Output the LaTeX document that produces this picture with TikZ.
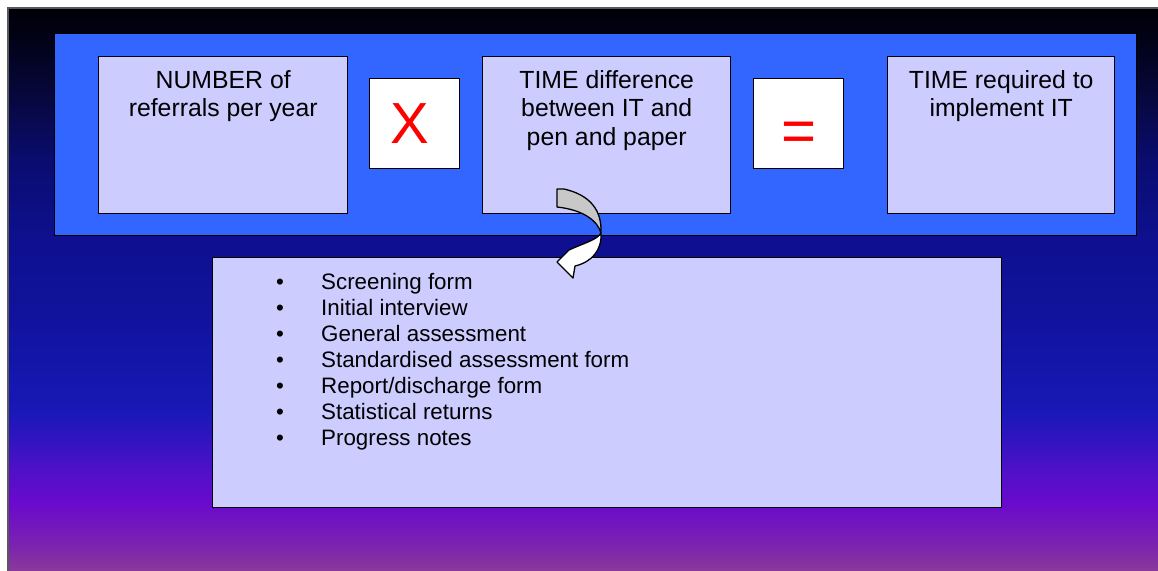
\documentclass[tikz,border=0pt]{standalone}
\usepackage{fontspec}
\setmainfont{Liberation Sans}
\usetikzlibrary{positioning}

% slide background colours, bottom to top
\definecolor{bgA}{HTML}{8C3C98}
\definecolor{bgB}{HTML}{7B22B0}
\definecolor{bgC}{HTML}{6A0ACC}
\definecolor{bgD}{HTML}{5210C8}
\definecolor{bgE}{HTML}{3414C0}
\definecolor{bgF}{HTML}{1A18B8}
\definecolor{bgG}{HTML}{1416AC}
\definecolor{bgH}{HTML}{10129A}
\definecolor{bgI}{HTML}{0E1090}
\definecolor{bgJ}{HTML}{0A0C70}
\definecolor{bgK}{HTML}{070840}
\definecolor{bgL}{HTML}{020218}
\definecolor{bgM}{HTML}{000008}
\definecolor{bandblue}{HTML}{3366FF}
\definecolor{boxfill}{HTML}{CCCCFF}
\definecolor{arrowgrey}{HTML}{C8C8C8}

% the path box is mapped onto the 25bp--75bp part of the shading
\pgfdeclareverticalshading{slidebg}{100bp}{%
  color(0bp)=(bgA); color(25bp)=(bgA); color(27.67bp)=(bgB); color(31.23bp)=(bgC);
  color(33.9bp)=(bgD); color(36.57bp)=(bgE); color(39.23bp)=(bgF); color(42.79bp)=(bgG);
  color(49.02bp)=(bgH); color(54.36bp)=(bgI); color(61.48bp)=(bgJ); color(66.81bp)=(bgK);
  color(72.15bp)=(bgL); color(75bp)=(bgM); color(100bp)=(bgM)}

\newcommand{\headfont}{\fontsize{24.8}{28.7}\selectfont}
\newcommand{\listfont}{\fontsize{22.35}{26}\selectfont}
\newcommand{\itembullet}{\makebox[45pt][l]{\textbullet}}

\begin{document}
\begin{tikzpicture}[x=1pt,y=-1pt,
  panel/.style={draw=black, line width=1.4pt, fill=boxfill, inner sep=0, anchor=north west},
  opbox/.style={draw=black, line width=1.4pt, fill=white, inner sep=0, anchor=north west,
                minimum width=90pt, minimum height=90pt},
  optext/.style={text=red, inner sep=0, anchor=base},
  headtext/.style={inner sep=0, anchor=north, font=\headfont},
  ribbon/.style={draw=black, line width=1.3pt, line join=round}]
\useasboundingbox (0,0) rectangle (1158,570);

% background
\shade[shading=slidebg] (8,8) rectangle (1162,574);
\draw[black!65, line width=1.2pt] (8,574) -- (8,8) -- (1162,8);

% blue band holding the equation
\node[draw=black, line width=1pt, fill=bandblue, inner sep=0, anchor=north west,
      minimum width=1082pt, minimum height=202pt] (band) at (54,33) {};

% equation boxes
\node[panel, minimum width=249pt, minimum height=157pt] (number) at (98,56) {};
\node[opbox] (times) at (369,78) {};
\node[panel, minimum width=248pt, minimum height=157pt] (diff) at (482,56) {};
\node[opbox] (equals) at (753,78) {};
\node[panel, minimum width=227pt, minimum height=157pt] (required) at (887,56) {};

\node[headtext] (numbertext) at (number.north |- 0,67.9)
  {\begin{tabular}{@{}c@{}}NUMBER of\\referrals per year\end{tabular}};
\node[headtext] (difftext) at (diff.north |- 0,67.9)
  {\begin{tabular}{@{}c@{}}TIME difference\\between IT and\\pen and paper\end{tabular}};
\node[headtext] (requiredtext) at (required.north |- 0,67.9)
  {\begin{tabular}{@{}c@{}}TIME required to\\implement IT\end{tabular}};

\node[optext, font=\fontsize{58}{58}\selectfont] (timessign) at ([xshift=-5pt]times.center |- 0,143) {X};
\node[optext, font=\fontsize{60}{60}\selectfont] (equalssign) at (equals.center |- 0,151) {=};

% list of forms
\node[panel, minimum width=789pt, minimum height=250pt] (forms) at (212,257) {};
\node[inner sep=0, anchor=north west, font=\listfont] (formlist) at (276,270.8)
  {\begin{tabular}{@{}l@{}l@{}}
   \itembullet & Screening form\\
   \itembullet & Initial interview\\
   \itembullet & General assessment\\
   \itembullet & Standardised assessment form\\
   \itembullet & Report/discharge form\\
   \itembullet & Statistical returns\\
   \itembullet & Progress notes
   \end{tabular}};

% curved arrow from the time difference down to the list
\coordinate (twist) at (601,233);
\fill[arrowgrey] (557,189) -- (564,189) .. controls (590,195) and (602,210) .. (twist)
  .. controls (598,222) and (585,210) .. (557,207) -- cycle;
\draw[ribbon] (557,189) -- (564,189) .. controls (590,195) and (602,210) .. (twist)
  .. controls (598,222) and (585,210) .. (557,207) -- cycle;
\draw[ribbon, fill=white] (twist) .. controls (602,250) and (592,262) .. (575,266)
  -- (573,278) -- (557,262) -- (569,250)
  .. controls (584,243) and (597,240) .. (twist) -- cycle;
\end{tikzpicture}
\end{document}
